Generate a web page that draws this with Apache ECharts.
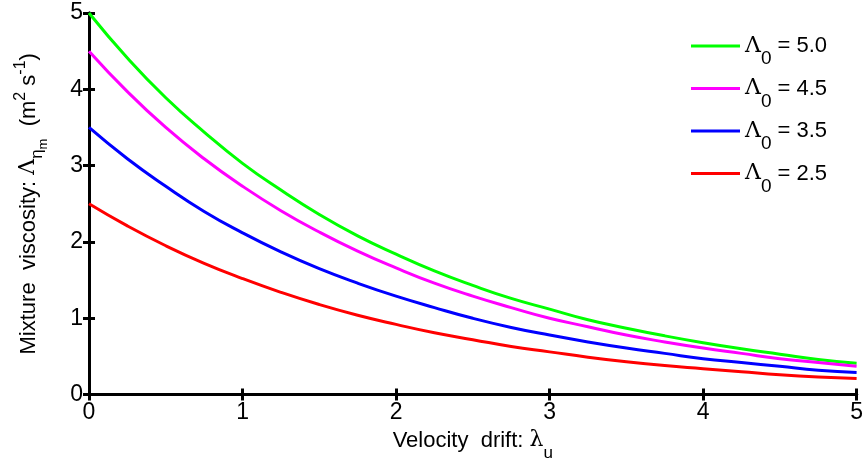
<!DOCTYPE html>
<html>
<head>
<meta charset="utf-8">
<script src="https://cdn.jsdelivr.net/npm/echarts@6/dist/echarts.min.js"></script>
<style>html,body{margin:0;padding:0;background:#fff}#c{width:866px;height:467px}</style>
</head>
<body>
<div id="c"></div>
<script>
const xValues = [0,0.25,0.5,0.75,1,1.25,1.5,1.75,2,2.25,2.5,2.75,3,3.25,3.5,3.75,4,4.25,4.5,4.75,5];
const lambda50 = [5.00,4.41,3.89,3.44,3.03,2.68,2.36,2.08,1.84,1.62,1.43,1.26,1.12,0.98,0.87,0.77,0.68,0.60,0.53,0.46,0.41];
const lambda45 = [4.50,3.97,3.50,3.09,2.73,2.41,2.13,1.88,1.66,1.46,1.29,1.14,1.00,0.89,0.78,0.69,0.61,0.54,0.47,0.42,0.37];
const lambda35 = [3.50,3.09,2.73,2.40,2.12,1.87,1.65,1.46,1.29,1.14,1.00,0.88,0.78,0.69,0.61,0.54,0.47,0.42,0.37,0.32,0.29];
const lambda25 = [2.50,2.21,1.95,1.72,1.52,1.34,1.18,1.04,0.92,0.81,0.72,0.63,0.56,0.49,0.43,0.38,0.34,0.30,0.26,0.23,0.21];
const seriesNames = ['5.0','4.5','3.5','2.5'];
const seriesData = [lambda50, lambda45, lambda35, lambda25];
const seriesColors = ['#00ff00','#ff00ff','#0000ff','#ff0000'];
const tickLabels = ['0','1','2','3','4','5'];

const FONT = 'Liberation Sans, Arial, sans-serif';
const SERIF = 'DejaVu Serif, serif';
const chart = echarts.init(document.getElementById('c'), null, {renderer:'canvas'});

const axisCommon = {
  type:'value', min:0, max:5, interval:1,
  axisLine:{show:true, lineStyle:{color:'#000', width:3}},
  axisTick:{show:true, inside:true, length:6, lineStyle:{color:'#000', width:3}},
  splitLine:{show:false}
};

const option = {
  animation:false,
  backgroundColor:'#fff',
  grid:{left:89, right:6, top:13, bottom:67, containLabel:false},
  legend:{
    orient:'vertical', left:691, top:35, padding:0, itemGap:9,
    icon:'rect', itemWidth:49, itemHeight:3,
    textStyle:{
      color:'#000', fontFamily:FONT, fontSize:22,
      rich:{
        L:{fontSize:22, fontFamily:SERIF, color:'#000'},
        s:{fontSize:19, fontFamily:FONT, color:'#000', padding:[26,0,0,0]},
        t:{fontSize:22, fontFamily:FONT, color:'#000'}
      }
    },
    formatter: n => '{L|Λ}{s|0}{t| = ' + n + '}',
    data: seriesNames
  },
  xAxis:[
    Object.assign({}, axisCommon, {
      position:'bottom',
      axisLabel:{color:'#000', fontFamily:FONT, fontSize:23, margin:7,
        formatter: v => tickLabels[Math.round(v)]},
      name:'{a|Velocity  drift: }{l|λ}{s|u}',
      nameLocation:'middle', nameGap:13,
      nameTextStyle:{color:'#000', fontFamily:FONT, fontSize:22,
        rich:{a:{fontSize:22, fontFamily:FONT, color:'#000'},
              l:{fontSize:22, fontFamily:SERIF, color:'#000'},
              s:{fontSize:17, fontFamily:FONT, color:'#000', padding:[26,0,0,0]}}}
    }),
    Object.assign({}, axisCommon, {position:'top', axisLabel:{show:false}})
  ],
  yAxis:[
    Object.assign({}, axisCommon, {
      position:'left',
      axisLabel:{color:'#000', fontFamily:FONT, fontSize:23, margin:6,
        formatter: v => tickLabels[Math.round(v)]},
      name:'{a|Mixture  viscosity: }{l|Λ}{s|η}{ss|m}{a|  (m}{p|2}{a| s}{p|-1}{a|)}',
      nameLocation:'middle', nameRotate:90, nameGap:39,
      nameTextStyle:{color:'#000', fontFamily:FONT, fontSize:22,
        rich:{a:{fontSize:22, fontFamily:FONT, color:'#000'},
              l:{fontSize:22, fontFamily:SERIF, color:'#000'},
              s:{fontSize:17, fontFamily:FONT, color:'#000', padding:[18,0,0,0]},
              ss:{fontSize:13, fontFamily:FONT, color:'#000', padding:[30,0,0,0]},
              p:{fontSize:16, fontFamily:FONT, color:'#000', padding:[0,0,16,0]}}}
    }),
    Object.assign({}, axisCommon, {position:'right', axisLabel:{show:false}})
  ],
  series: seriesNames.map((n,i)=>({
    name:n, type:'line', smooth:true, symbol:'none', showSymbol:false,
    data: xValues.map((x,j)=>[x, seriesData[i][j]]),
    lineStyle:{color:seriesColors[i], width:3},
    itemStyle:{color:seriesColors[i]},
    z: 2
  }))
};
chart.setOption(option);
</script>
</body>
</html>
